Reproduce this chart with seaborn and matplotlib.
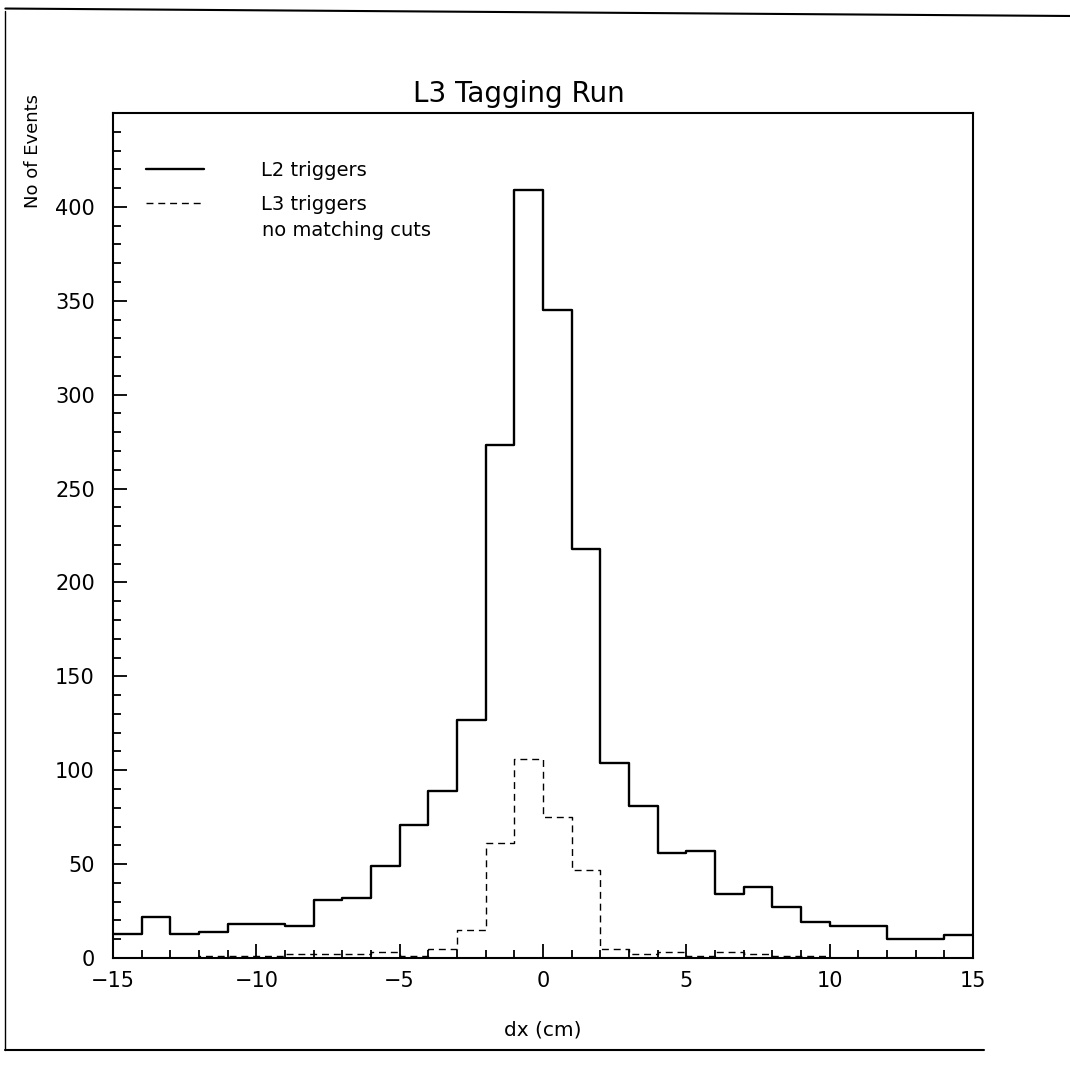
import numpy as np
import matplotlib.pyplot as plt
import seaborn as sns
from matplotlib.lines import Line2D
from matplotlib.ticker import MultipleLocator

# bin edges of dx (cm), one bin per cm from -15 to 15
bin_edges = list(range(-15, 16))
bin_centers = [e + 0.5 for e in bin_edges[:-1]]

# L2 triggers (solid)
l2_counts = [13, 22, 13, 14, 18, 18, 17, 31, 32, 49,
             71, 89, 127, 273, 409, 345, 218, 104, 81, 56,
             57, 34, 38, 27, 19, 17, 17, 10, 10, 12]

# L3 triggers, no matching cuts (dashed)
l3_counts = [0, 0, 0, 1, 1, 1, 2, 2, 2, 3,
             1, 5, 15, 61, 106, 75, 47, 5, 2, 3,
             1, 3, 2, 1, 1, 0, 0, 0, 0, 0]

sns.set_style("ticks")
plt.rcParams["font.family"] = ["DejaVu Sans"]
plt.rcParams.update({"text.color": "black", "axes.labelcolor": "black",
                     "xtick.color": "black", "ytick.color": "black",
                     "axes.edgecolor": "black"})

fig = plt.figure(figsize=(10.7, 10.66), dpi=100)
ax = fig.add_axes([0.1056, 0.1013, 0.8037, 0.7927])

sns.histplot(x=bin_centers, weights=l2_counts, bins=bin_edges, element="step",
             fill=False, color="black", linewidth=1.7, ax=ax)
sns.histplot(x=bin_centers, weights=l3_counts, bins=bin_edges, element="step",
             fill=False, color="black", linewidth=1.0, linestyle=(0, (5, 3.5)), ax=ax)

ax.set_xlim(-15, 15)
ax.set_ylim(0, 450)
ax.xaxis.set_major_locator(MultipleLocator(5))
ax.xaxis.set_minor_locator(MultipleLocator(1))
ax.yaxis.set_major_locator(MultipleLocator(50))
ax.yaxis.set_minor_locator(MultipleLocator(10))
ax.set_yticks(np.arange(0, 401, 50))
ax.tick_params(which="both", direction="in", top=False, right=False, width=1.3)
ax.tick_params(which="major", length=10, labelsize=15)
ax.tick_params(axis="x", which="major", pad=9)
ax.tick_params(axis="y", which="major", pad=13)
ax.tick_params(which="minor", length=5.5)
for sp in ax.spines.values():
    sp.set_visible(True)
    sp.set_linewidth(1.5)

ax.set_title("L3 Tagging Run", fontsize=20, pad=8, x=0.472)
ax.set_xlabel("dx (cm)", fontsize=14.5)
ax.xaxis.set_label_coords(0.5, -0.074)
ax.set_ylabel("No of Events", fontsize=13)
ax.yaxis.set_label_coords(-0.083, 0.955)

handles = [Line2D([], [], color="black", linewidth=1.7),
           Line2D([], [], color="black", linewidth=1.0, linestyle=(0, (5, 3.5)))]
leg = ax.legend(handles, ["L2 triggers", "L3 triggers"], loc="upper left",
                bbox_to_anchor=(0.018, 0.964), frameon=False, fontsize=14,
                handlelength=3.0, handletextpad=2.94, labelspacing=0.78)
ax.text(0.173, 0.8615, "no matching cuts", transform=ax.transAxes,
        fontsize=14, va="center", ha="left")

# scanned page border
fig.add_artist(Line2D([0.005, 0.005], [0.015, 0.99], color="black", lw=1.0))
fig.add_artist(Line2D([0.005, 1.0], [0.992, 0.985], color="black", lw=1.5))
fig.add_artist(Line2D([0.005, 0.92], [0.015, 0.015], color="black", lw=1.5))

fig.savefig("out.png", dpi=100)
